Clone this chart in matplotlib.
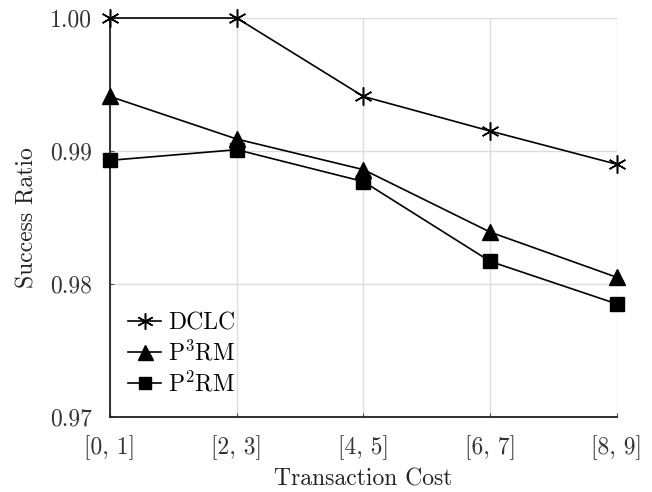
import matplotlib.pyplot as plt

plt.rcParams['font.family'] = 'serif'
plt.rcParams['font.serif'] = ['cmr10']
plt.rcParams['mathtext.fontset'] = 'cm'
plt.rcParams['axes.unicode_minus'] = False

costs = ['[0, 1]', '[2, 3]', '[4, 5]', '[6, 7]', '[8, 9]']
dclc = [1.0000, 1.0000, 0.9941, 0.9915, 0.9890]
p3rm = [0.9941, 0.9909, 0.9886, 0.9839, 0.9805]
p2rm = [0.9893, 0.9901, 0.9877, 0.9817, 0.9785]
yticks = [0.97, 0.98, 0.99, 1.00]

fig = plt.figure(figsize=(6.52, 4.92), dpi=100)
ax = fig.add_axes([0.1687, 0.1524, 0.7776, 0.811])

x = range(len(costs))
ax.plot(x, dclc, color='black', lw=1.2, marker=(6, 2, 0), ms=13, mew=1.1,
        label='DCLC', clip_on=False, zorder=3)
ax.plot(x, p3rm, color='black', lw=1.2, marker='^', ms=12,
        label=r'P$^3$RM', clip_on=False, zorder=3)
ax.plot(x, p2rm, color='black', lw=1.2, marker='s', ms=9.5,
        label=r'P$^2$RM', clip_on=False, zorder=3)

ax.set_xlim(0, len(costs) - 1)
ax.set_ylim(0.97, 1.00)
ax.set_xticks(list(x))
ax.set_xticklabels(costs)
ax.set_yticks(yticks)
ax.set_yticklabels(['%.2f' % v for v in yticks])

ax.grid(True, color='#dddddd', lw=1.0)
ax.set_axisbelow(True)
for s in ['top', 'right']:
    ax.spines[s].set_visible(False)
for s in ['left', 'bottom']:
    ax.spines[s].set_linewidth(1.3)
    ax.spines[s].set_color('#222222')

ax.tick_params(axis='both', direction='in', length=3, color='#555555',
               labelsize=17, labelcolor='#333333')
ax.tick_params(axis='y', pad=13)
ax.tick_params(axis='x', pad=13)

ax.set_xlabel('Transaction Cost', fontsize=17, color='#222222', labelpad=6)
ax.set_ylabel('Success Ratio', fontsize=17, color='#222222', labelpad=8)

ax.legend(loc='lower left', bbox_to_anchor=(-0.02, -0.02), frameon=False,
          fontsize=17, handlelength=1.4, markerscale=0.9,
          labelspacing=0.25, handletextpad=0.3, borderaxespad=0.8)

fig.savefig('out.png', dpi=100)
